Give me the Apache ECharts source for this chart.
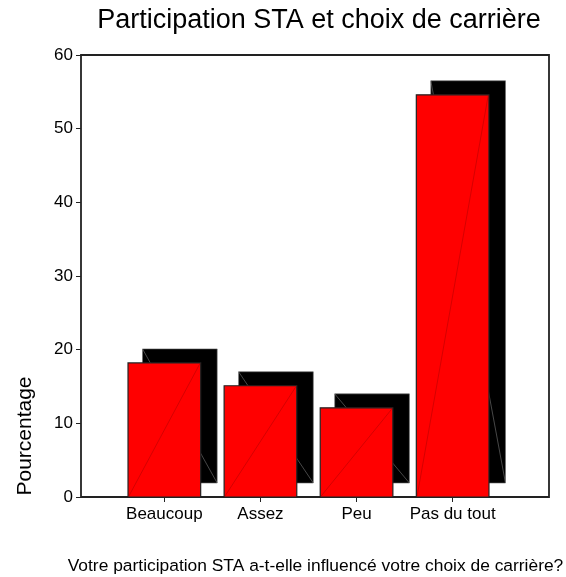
<!DOCTYPE html>
<html>
<head>
<meta charset="utf-8">
<script src="https://cdn.jsdelivr.net/npm/echarts@6/dist/echarts.min.js"></script>
<style>html,body{margin:0;padding:0;background:#fff}#c{width:566px;height:577px}</style>
</head>
<body>
<div id="c"></div>
<script>
const categories = ['Beaucoup', 'Assez', 'Peu', 'Pas du tout'];
const percentages = [18.2, 15.1, 12.1, 54.6];
const yTicks = [0, 10, 20, 30, 40, 50, 60];
const titleText = 'Participation STA et choix de carrière';
const xName = 'Votre participation STA a-t-elle influencé votre choix de carrière?';
const yName = 'Pourcentage';

const FONT = "'Liberation Sans', Arial, sans-serif";
const chart = echarts.init(document.getElementById('c'), null, {renderer: 'canvas'});

function renderBar(params, api) {
  const cat = api.value(0);
  const top = api.coord([cat, api.value(1)]);
  const base = api.coord([cat, 0]);
  const w = api.size([1, 0])[0] * 0.756;
  const left = top[0] - w / 2;
  const h = base[1] - top[1];
  const dx = 14.5, dy = -14;
  return {
    type: 'group',
    children: [
      {type: 'rect', shape: {x: left + dx, y: top[1] + dy, width: w + 2, height: h},
       style: {fill: '#000', stroke: '#666', lineWidth: 0.6}},
      {type: 'line', shape: {x1: left + dx, y1: top[1] + dy, x2: left + dx + w + 2, y2: base[1] + dy},
       style: {stroke: '#777', lineWidth: 0.6}},
      {type: 'rect', shape: {x: left, y: top[1], width: w, height: h},
       style: {fill: '#ff0000', stroke: '#222', lineWidth: 1.2}},
      {type: 'line', shape: {x1: left + 0.8, y1: base[1] - 0.8, x2: left + w - 0.8, y2: top[1] + 0.8},
       style: {stroke: '#b80000', lineWidth: 0.6}}
    ]
  };
}

chart.setOption({
  animation: false,
  backgroundColor: '#fff',
  grid: [
    {left: 81, top: 55, width: 468, height: 442, show: true, borderColor: '#222', borderWidth: 1.8, backgroundColor: 'transparent'},
    {left: 116.3, top: 55, width: 384.4, height: 442}
  ],
  xAxis: [
    {gridIndex: 0, type: 'value', min: 0, max: 1, show: false},
    {gridIndex: 1, type: 'category', data: categories,
     axisLine: {show: false},
     axisTick: {show: true, alignWithLabel: true, interval: 0, length: 5, lineStyle: {color: '#222', width: 1}},
     axisLabel: {interval: 0, fontFamily: FONT, fontSize: 17, color: '#000', margin: 9}}
  ],
  yAxis: [
    {gridIndex: 0, type: 'value', min: yTicks[0], max: yTicks[yTicks.length - 1], interval: 10,
     axisLine: {show: false},
     axisTick: {show: true, length: 5, lineStyle: {color: '#222', width: 1}},
     splitLine: {show: false},
     axisLabel: {fontFamily: FONT, fontSize: 17, color: '#000', margin: 8}},
    {gridIndex: 1, type: 'value', min: 0, max: 60, show: false}
  ],
  series: [{
    type: 'custom', xAxisIndex: 1, yAxisIndex: 1,
    renderItem: renderBar,
    data: categories.map((c, i) => [i, percentages[i]])
  }],
  graphic: [
    {type: 'text', x: 319, y: 20.5, style: {text: titleText, fontFamily: FONT, fontSize: 27, fill: '#000', align: 'center', verticalAlign: 'middle'}},
    {type: 'text', x: 315.5, y: 566.5, style: {text: xName, fontFamily: FONT, fontSize: 17.4, fill: '#000', align: 'center', verticalAlign: 'middle'}},
    {type: 'text', x: 25, y: 436, rotation: Math.PI / 2, style: {text: yName, fontFamily: FONT, fontSize: 21, fill: '#000', align: 'center', verticalAlign: 'middle'}}
  ]
});
</script>
</body>
</html>
